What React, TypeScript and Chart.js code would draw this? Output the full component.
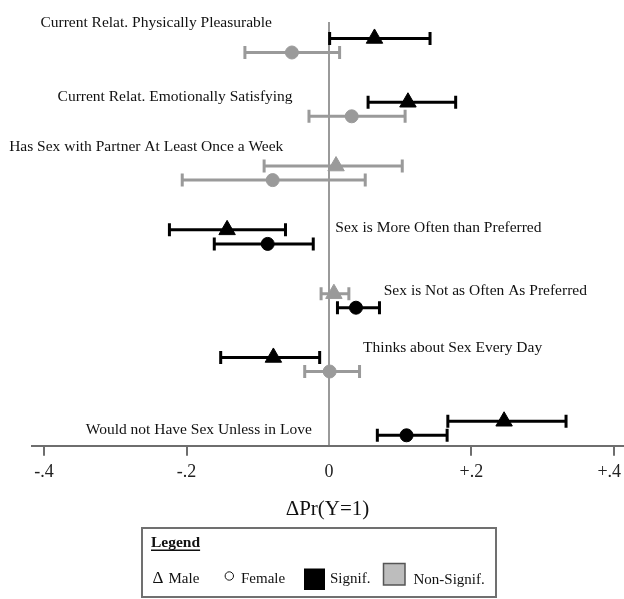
import React, { useEffect, useRef } from "react";
import { Chart, registerables } from "chart.js";

Chart.register(...registerables);

// ---------- data ----------
const categories = [
  "Current Relat. Physically Pleasurable",
  "Current Relat. Emotionally Satisfying",
  "Has Sex with Partner At Least Once a Week",
  "Sex is More Often than Preferred",
  "Sex is Not as Often As Preferred",
  "Thinks about Sex Every Day",
  "Would not Have Sex Unless in Love",
];
const maleEst = [0.064, 0.111, 0.01, -0.143, 0.007, -0.078, 0.246];
const maleLow = [0.001, 0.055, -0.091, -0.224, -0.011, -0.152, 0.167];
const maleHigh = [0.142, 0.178, 0.103, -0.061, 0.028, -0.013, 0.333];
const maleSignif = [true, true, false, true, false, true, true];
const femaleEst = [-0.052, 0.032, -0.079, -0.086, 0.038, 0.001, 0.109];
const femaleLow = [-0.118, -0.028, -0.206, -0.161, 0.012, -0.034, 0.068];
const femaleHigh = [0.015, 0.107, 0.051, -0.022, 0.071, 0.043, 0.166];
const femaleSignif = [false, false, false, true, true, false, true];
const xTickValues = [-0.4, -0.2, 0, 0.2, 0.4];
const xTickLabels = ["-.4", "-.2", "0", "+.2", "+.4"];
const axisTitle = "ΔPr(Y=1)";
const legendTitle = "Legend";
const legendItems = ["Male", "Female", "Signif.", "Non-Signif."];

// ---------- annotation layout (separate from data) ----------
const labelAnchorX = [-0.08, -0.051, -0.064, 0.009, 0.077, 0.048, -0.024];
const labelAlign: CanvasTextAlign[] = ["right", "right", "right", "left", "left", "left", "right"];
const labelOffsetY = [-0.347, -0.193, -0.412, -0.133, -0.16, -0.262, 0.027];
const ROW_OFFSET = 0.11;

const BLACK = "#000000";
const GRAY = "#9a9a9a";
const AXIS = "#6e6e6e";
const TEXT = "#111111";
const SERIF = '"Liberation Serif", "Times New Roman", serif';

const colorOf = (sig: boolean) => (sig ? BLACK : GRAY);

const labelPlugin = {
  id: "rowLabels",
  afterDatasetsDraw(chart: any) {
    const { ctx, scales } = chart;
    const xs = scales.x;
    const ys = scales.y;
    ctx.save();
    ctx.font = `15.5px ${SERIF}`;
    ctx.fillStyle = TEXT;
    ctx.textBaseline = "middle";
    categories.forEach((c, i) => {
      ctx.textAlign = labelAlign[i];
      ctx.fillText(c, xs.getPixelForValue(labelAnchorX[i]), ys.getPixelForValue(i + labelOffsetY[i]));
    });
    ctx.restore();
  },
};

const legendPlugin = {
  id: "boxLegend",
  afterDraw(chart: any) {
    const ctx = chart.ctx;
    ctx.save();
    ctx.strokeStyle = "#707070";
    ctx.lineWidth = 2;
    ctx.strokeRect(142, 528, 354, 69);
    ctx.fillStyle = TEXT;
    ctx.textBaseline = "middle";
    ctx.textAlign = "left";
    ctx.font = `bold 15.5px ${SERIF}`;
    ctx.fillText(legendTitle, 151, 543);
    const w = ctx.measureText(legendTitle).width;
    ctx.fillRect(151, 549.5, w, 1.5);
    ctx.font = `17px ${SERIF}`;
    ctx.fillText("Δ", 152.5, 579);
    ctx.font = `15px ${SERIF}`;
    ctx.fillText(legendItems[0], 168.5, 579.5);
    ctx.beginPath();
    ctx.arc(229.3, 576, 4.2, 0, Math.PI * 2);
    ctx.lineWidth = 1;
    ctx.strokeStyle = TEXT;
    ctx.stroke();
    ctx.fillText(legendItems[1], 241, 579.5);
    ctx.fillStyle = BLACK;
    ctx.fillRect(304, 568.5, 21, 21.5);
    ctx.fillStyle = TEXT;
    ctx.fillText(legendItems[2], 330, 579.5);
    ctx.fillStyle = "#bdbdbd";
    ctx.fillRect(383.5, 563.5, 21.5, 21.5);
    ctx.strokeStyle = "#555555";
    ctx.lineWidth = 1.5;
    ctx.strokeRect(383.5, 563.5, 21.5, 21.5);
    ctx.fillStyle = TEXT;
    ctx.fillText(legendItems[3], 413.5, 580);
    ctx.restore();
  },
};

export default function App() {
  const ref = useRef<HTMLCanvasElement | null>(null);

  useEffect(() => {
    if (!ref.current) return;

    const errorSets: any[] = [];
    categories.forEach((_, i) => {
      const mc = colorOf(maleSignif[i]);
      const fc = colorOf(femaleSignif[i]);
      errorSets.push({
        type: "line",
        data: [
          { x: maleLow[i], y: i - ROW_OFFSET },
          { x: maleHigh[i], y: i - ROW_OFFSET },
        ],
        showLine: true,
        borderColor: mc,
        borderWidth: 3,
        pointStyle: "line",
        rotation: 90,
        pointRadius: 6.5,
        pointBorderWidth: 3,
        pointBorderColor: mc,
        pointBackgroundColor: mc,
        order: 2,
      });
      errorSets.push({
        type: "line",
        data: [
          { x: femaleLow[i], y: i + ROW_OFFSET },
          { x: femaleHigh[i], y: i + ROW_OFFSET },
        ],
        showLine: true,
        borderColor: fc,
        borderWidth: 3,
        pointStyle: "line",
        rotation: 90,
        pointRadius: 6.5,
        pointBorderWidth: 3,
        pointBorderColor: fc,
        pointBackgroundColor: fc,
        order: 2,
      });
    });

    const maleSet = {
      type: "scatter",
      data: maleEst.map((v, i) => ({ x: v, y: i - ROW_OFFSET })),
      pointStyle: "triangle",
      pointRadius: 9.5,
      borderWidth: 1,
      backgroundColor: maleSignif.map(colorOf),
      borderColor: maleSignif.map(colorOf),
      order: 0,
    };
    const femaleSet = {
      type: "scatter",
      data: femaleEst.map((v, i) => ({ x: v, y: i + ROW_OFFSET })),
      pointStyle: "circle",
      pointRadius: 6.5,
      borderWidth: 1,
      backgroundColor: femaleSignif.map(colorOf),
      borderColor: femaleSignif.map(colorOf),
      order: 1,
    };

    const chart = new Chart(ref.current, {
      type: "scatter",
      data: { datasets: [maleSet, femaleSet, ...errorSets] as any },
      options: {
        animation: false,
        responsive: false,
        events: [],
        layout: { autoPadding: false, padding: { left: 32, right: 1, top: 22, bottom: 76.5 } },
        plugins: { legend: { display: false }, tooltip: { enabled: false } },
        scales: {
          x: {
            type: "linear",
            min: -0.417,
            max: 0.413,
            afterBuildTicks: (scale: any) => {
              scale.ticks = xTickValues.map((v) => ({ value: v }));
            },
            afterFit: (scale: any) => {
              scale.paddingLeft = 0;
              scale.paddingRight = 0;
            },
            ticks: {
              autoSkip: false,
              maxRotation: 0,
              padding: 6,
              color: "#222222",
              font: { family: SERIF, size: 18 },
              callback: (v: any) => {
                const idx = xTickValues.findIndex((t) => Math.abs(t - Number(v)) < 1e-6);
                if (idx < 0) return "";
                // the last label sits slightly inside the canvas edge, as in the reference
                return idx === xTickValues.length - 1 ? xTickLabels[idx] + "\u2002" : xTickLabels[idx];
              },
            },
            grid: {
              drawOnChartArea: true,
              drawTicks: true,
              tickLength: 10,
              lineWidth: 2,
              tickWidth: 2,
              color: (c: any) => (c.tick && Math.abs(c.tick.value) < 1e-9 ? GRAY : "rgba(0,0,0,0)"),
              tickColor: (c: any) => (c.tick && Math.abs(c.tick.value) < 1e-9 ? "rgba(0,0,0,0)" : AXIS),
            },
            border: { display: true, color: AXIS, width: 2 },
            title: {
              display: true,
              text: axisTitle,
              color: TEXT,
              font: { family: SERIF, size: 21 },
              padding: { top: 8, bottom: 0 },
            },
          },
          y: {
            type: "linear",
            display: false,
            reverse: true,
            min: -0.368,
            max: 6.273,
          },
        },
      } as any,
      plugins: [labelPlugin, legendPlugin],
    });

    return () => chart.destroy();
  }, []);

  return (
    <div style={{ position: "fixed", left: 0, top: 0, width: 624, height: 599, background: "#fff" }}>
      <canvas ref={ref} width={624} height={599} style={{ display: "block" }} />
    </div>
  );
}
